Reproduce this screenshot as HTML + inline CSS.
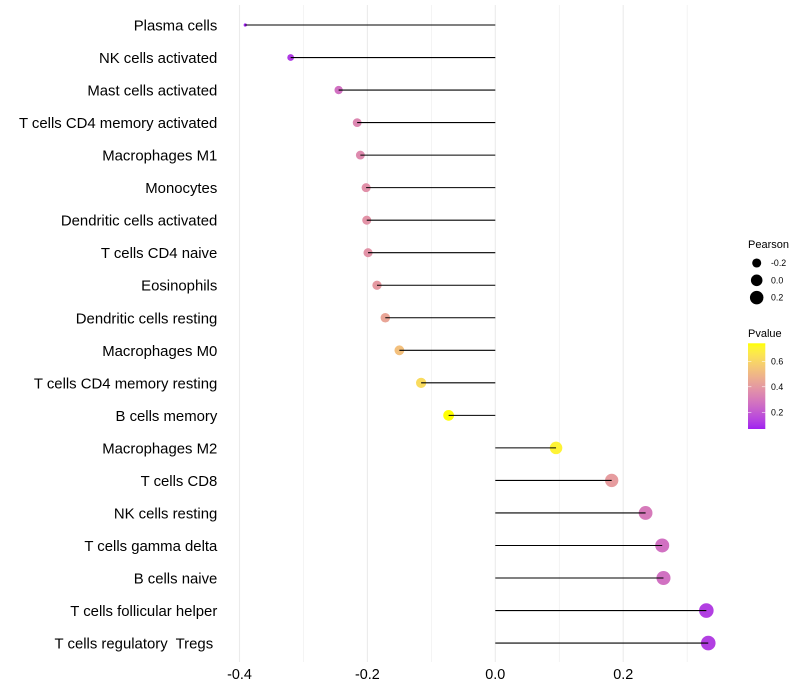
<!DOCTYPE html>
<html>
<head>
<meta charset="utf-8">
<style>
html,body{margin:0;padding:0;background:#fff;width:800px;height:700px;overflow:hidden}
svg{display:block}
text{font-family:"Liberation Sans",Arial,sans-serif;white-space:pre}
</style>
</head>
<body>
<svg id="chart" width="800" height="700" viewBox="0 0 800 700" xmlns="http://www.w3.org/2000/svg"></svg>
<script>
const categories = ["Plasma cells","NK cells activated","Mast cells activated","T cells CD4 memory activated","Macrophages M1","Monocytes","Dendritic cells activated","T cells CD4 naive","Eosinophils","Dendritic cells resting","Macrophages M0","T cells CD4 memory resting","B cells memory","Macrophages M2","T cells CD8","NK cells resting","T cells gamma delta","B cells naive","T cells follicular helper","T cells regulatory  Tregs "];
const pearson = [-0.391,-0.32,-0.245,-0.216,-0.211,-0.202,-0.201,-0.199,-0.185,-0.172,-0.15,-0.116,-0.073,0.095,0.182,0.235,0.261,0.263,0.33,0.333];
const pvalue = [0.07,0.12,0.27,0.34,0.35,0.37,0.38,0.38,0.40,0.44,0.53,0.62,0.74,0.70,0.41,0.30,0.27,0.27,0.13,0.13];
const xMajorTicks = [-0.4,-0.2,0.0,0.2];
const xMinorTicks = [-0.3,-0.1,0.1,0.3];
const sizeLegendValues = [-0.2,0.0,0.2];
const colorLegendValues = [0.2,0.4,0.6];

const NS = "http://www.w3.org/2000/svg";
const svg = document.getElementById("chart");
function mk(tag, attrs, parent, txt){
  const e = document.createElementNS(NS, tag);
  for (const k in attrs) e.setAttribute(k, attrs[k]);
  if (txt !== undefined) e.textContent = txt;
  (parent || svg).appendChild(e);
  return e;
}
const X0 = 495.3, XK = 639.5;
const xScale = v => X0 + XK * v;
const yScale = i => 25.0 + 32.53 * i;
const PMIN = 0.069, PMAX = 0.741;
const SMIN = -0.391, SMAX = 0.333;
function diam(v){
  const t = Math.max(0, (v - SMIN) / (SMAX - SMIN));
  return 3.2 + 11.4 * Math.sqrt(t);
}
// Lab interpolation purple -> yellow
function s2l(c){c/=255;return c<=0.04045?c/12.92:Math.pow((c+0.055)/1.055,2.4)}
function l2s(c){c=c<=0.0031308?12.92*c:1.055*Math.pow(c,1/2.4)-0.055;return Math.round(Math.min(1,Math.max(0,c))*255)}
function rgb2lab(r,g,b){
  r=s2l(r);g=s2l(g);b=s2l(b);
  const x=(0.4124*r+0.3576*g+0.1805*b)/0.95047,y=0.2126*r+0.7152*g+0.0722*b,z=(0.0193*r+0.1192*g+0.9505*b)/1.08883;
  const f=t=>t>0.008856?Math.cbrt(t):7.787*t+16/116;
  return [116*f(y)-16,500*(f(x)-f(y)),200*(f(y)-f(z))];
}
function lab2rgb(L,a,b){
  const fy=(L+16)/116,fx=fy+a/500,fz=fy-b/200;
  const g=t=>t*t*t>0.008856?t*t*t:(t-16/116)/7.787;
  const x=g(fx)*0.95047,y=g(fy),z=g(fz)*1.08883;
  return [l2s(3.2406*x-1.5372*y-0.4986*z),l2s(-0.9689*x+1.8758*y+0.0415*z),l2s(0.0557*x-0.2040*y+1.0570*z)];
}
const LOW = rgb2lab(160,32,240), HIGH = rgb2lab(255,255,0);
function colorScale(p){
  const t = Math.min(1, Math.max(0, (p - PMIN) / (PMAX - PMIN)));
  const c = lab2rgb(LOW[0]+(HIGH[0]-LOW[0])*t, LOW[1]+(HIGH[1]-LOW[1])*t, LOW[2]+(HIGH[2]-LOW[2])*t);
  return "rgb("+c.join(",")+")";
}

// gridlines
xMinorTicks.forEach(v => {
  const g = mk("line",{x1:xScale(v),x2:xScale(v),y1:5,y2:662,stroke:"#ebebeb","stroke-width":0.55});
  
  
});
xMajorTicks.forEach(v => {
  const g = mk("line",{x1:xScale(v),x2:xScale(v),y1:5,y2:662,stroke:"#ebebeb","stroke-width":1.07});
  
  
  const t = mk("text",{x:xScale(v),y:679,"text-anchor":"middle","font-size":14.4,fill:"#000"},svg,v.toFixed(1));
  
  
});

// points, then stems, then labels
categories.forEach((name,i) => {
  const y = yScale(i), x = xScale(pearson[i]);
  const c = mk("circle",{cx:x,cy:y,r:diam(pearson[i])/2,fill:colorScale(pvalue[i])});
  
  
  const l = mk("line",{x1:xScale(0),x2:x,y1:y,y2:y,stroke:"#000","stroke-width":1.07});
  
  
  const t = mk("text",{x:217.3,y:y+5.5,"text-anchor":"end","font-size":14.9,fill:"#000"},svg,name);
  
  
});

// size legend
const sizeTitle = mk("text",{x:748,y:248,"font-size":11,fill:"#000"},svg,"Pearson");


sizeLegendValues.forEach((v,i) => {
  const y = 263 + 17.3 * i;
  const c = mk("circle",{cx:756.7,cy:y,r:diam(v)/2,fill:"#000"});
  
  
  const t = mk("text",{x:771,y:y+3.1,"font-size":8.8,fill:"#000"},svg,v.toFixed(1));
  
  
});

// colour legend
const colorTitle = mk("text",{x:748,y:337,"font-size":11,fill:"#000"},svg,"Pvalue");


const BAR_TOP = 343.3, BAR_BOT = 429, BAR_X = 748, BAR_W = 17.3;
const defs = mk("defs",{});
const grad = mk("linearGradient",{id:"pgrad",x1:0,y1:1,x2:0,y2:0},defs);
for (let k = 0; k <= 20; k++){
  mk("stop",{offset:k/20,"stop-color":colorScale(PMIN+(PMAX-PMIN)*k/20)},grad);
}
const bar = mk("rect",{x:BAR_X,y:BAR_TOP,width:BAR_W,height:BAR_BOT-BAR_TOP,fill:"url(#pgrad)"});


const legY = p => BAR_BOT - (p - PMIN) / (PMAX - PMIN) * (BAR_BOT - BAR_TOP);
colorLegendValues.forEach(p => {
  const y = legY(p);
  [[BAR_X,BAR_X+3.4],[BAR_X+BAR_W-3.4,BAR_X+BAR_W]].forEach(seg => {
    const k = mk("line",{x1:seg[0],x2:seg[1],y1:y,y2:y,stroke:"#fff","stroke-width":0.55});
    
    
  });
  const t = mk("text",{x:771,y:y+3.1,"font-size":8.8,fill:"#000"},svg,p.toFixed(1));
  
  
});
</script>
</body>
</html>
